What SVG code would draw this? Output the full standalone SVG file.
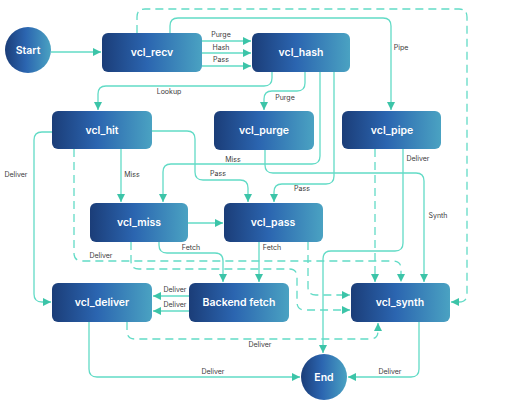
<svg xmlns="http://www.w3.org/2000/svg" width="512" height="408" viewBox="0 0 512 408">
<defs>
<linearGradient id="g" x1="0" y1="0" x2="1" y2="0">
<stop offset="0" stop-color="#1b3d78"/>
<stop offset="0.45" stop-color="#2b65b0"/>
<stop offset="1" stop-color="#4aa2c2"/>
</linearGradient>
<marker id="a" viewBox="0 0 8 8" refX="8" refY="4" markerWidth="8" markerHeight="8" markerUnits="userSpaceOnUse" orient="auto">
<path d="M0,0 L8,4 L0,8 z" fill="#3cc4a8"/>
</marker>
<style>
.n{fill:url(#g);}
.t{fill:#fff;font-family:Inter,"Noto Sans","Liberation Sans",sans-serif;font-size:10.5px;font-weight:600;text-anchor:middle;}
.c{fill:none;stroke:#62dbc6;stroke-width:1.3;marker-end:url(#a);}
.d{stroke-dasharray:8 5;}
.l{fill:#3a3a3a;font-family:Inter,"Noto Sans","Liberation Sans",sans-serif;font-size:7px;text-anchor:middle;}
</style>
</defs>
<rect width="512" height="408" fill="#fff"/>
<g id="connectors">
<path class="c" d="M51,52 H101"/>
<path class="c" d="M202,41 H251"/>
<path class="c" d="M202,53 H251"/>
<path class="c" d="M202,66 H251"/>
<path class="c d" d="M137,33 V17 Q137,9 145,9 H459 Q467,9 467,17 V294 Q467,302 459,302 H451"/>
<path class="c" d="M170,33 V26 Q170,18 178,18 H383 Q391,18 391,26 V110"/>
<path class="c" d="M272,72 V78 Q272,86 264,86 H106 Q98,86 98,94 V110"/>
<path class="c" d="M305,72 V83 Q305,91 297,91 H272 Q264,91 264,99 V110"/>
<path class="c" d="M320,72 V156 Q320,164 312,164 H171 Q163,164 163,172 V202"/>
<path class="c" d="M334,72 V176 Q334,184 326,184 H282 Q274,184 274,192 V202"/>
<path class="c" d="M121,149 V202"/>
<path class="c" d="M152,131 H187 Q195,131 195,139 V172 Q195,180 203,180 H240 Q248,180 248,188 V202"/>
<path class="c" d="M52,132 H42 Q34,132 34,140 V294 Q34,302 42,302 H51"/>
<path class="c d" d="M74,149 V253 Q74,261 82,261 H393 Q401,261 401,269 V282"/>
<path class="c" d="M188,223 H223"/>
<path class="c" d="M159,242 V245 Q159,253 167,253 H215 Q223,253 223,261 V282"/>
<path class="c d" d="M131,242 V261 Q131,269 139,269 H289 Q297,269 297,277 V302 Q297,310 305,310 H350"/>
<path class="c" d="M259,242 V282"/>
<path class="c d" d="M308,242 V287 Q308,295 316,295 H350"/>
<path class="c d" d="M375,149 V282"/>
<path class="c" d="M403,149 V243 Q403,251 395,251 H331 Q323,251 323,259 V353"/>
<path class="c" d="M265,150 V165 Q265,173 273,173 H416 Q424,173 424,181 V282"/>
<path class="c" d="M189,296 H153"/>
<path class="c" d="M189,311 H153"/>
<path class="c d" d="M127,322 V331 Q127,339 135,339 H370 Q378,339 378,331 V323"/>
<path class="c" d="M89,322 V369 Q89,377 97,377 H300"/>
<path class="c" d="M419,322 V369 Q419,377 411,377 H348"/>
</g>
<g id="labels">
<text class="l" x="221" y="37">Purge</text>
<text class="l" x="221" y="50">Hash</text>
<text class="l" x="221" y="62">Pass</text>
<text class="l" x="401" y="50">Pipe</text>
<text class="l" x="169" y="94">Lookup</text>
<text class="l" x="285" y="100">Purge</text>
<text class="l" x="16" y="177">Deliver</text>
<text class="l" x="132" y="177">Miss</text>
<text class="l" x="218" y="176">Pass</text>
<text class="l" x="233" y="162">Miss</text>
<text class="l" x="302" y="191">Pass</text>
<text class="l" x="418" y="161">Deliver</text>
<text class="l" x="438" y="218">Synth</text>
<text class="l" x="191" y="250">Fetch</text>
<text class="l" x="272" y="250">Fetch</text>
<text class="l" x="101" y="258">Deliver</text>
<text class="l" x="175" y="292">Deliver</text>
<text class="l" x="175" y="307">Deliver</text>
<text class="l" x="260" y="347">Deliver</text>
<text class="l" x="213" y="374">Deliver</text>
<text class="l" x="390" y="374">Deliver</text>
</g>
<g id="start"><circle class="n" cx="28" cy="50" r="23"/><text class="t" x="28" y="54">Start</text></g>
<g id="vcl_recv"><rect class="n" x="102" y="33" width="100" height="39" rx="6"/><text class="t" x="152" y="56">vcl_recv</text></g>
<g id="vcl_hash"><rect class="n" x="252" y="33" width="98" height="39" rx="6"/><text class="t" x="301" y="56">vcl_hash</text></g>
<g id="vcl_hit"><rect class="n" x="52" y="111" width="100" height="38" rx="6"/><text class="t" x="102" y="134">vcl_hit</text></g>
<g id="vcl_purge"><rect class="n" x="214" y="111" width="100" height="39" rx="6"/><text class="t" x="264" y="134">vcl_purge</text></g>
<g id="vcl_pipe"><rect class="n" x="342" y="111" width="99" height="38" rx="6"/><text class="t" x="392" y="134">vcl_pipe</text></g>
<g id="vcl_miss"><rect class="n" x="90" y="203" width="98" height="39" rx="6"/><text class="t" x="139" y="226">vcl_miss</text></g>
<g id="vcl_pass"><rect class="n" x="224" y="203" width="99" height="39" rx="6"/><text class="t" x="273" y="226">vcl_pass</text></g>
<g id="vcl_deliver"><rect class="n" x="52" y="283" width="100" height="39" rx="6"/><text class="t" x="102" y="306">vcl_deliver</text></g>
<g id="backend_fetch"><rect class="n" x="189" y="283" width="100" height="39" rx="6"/><text class="t" x="239" y="306">Backend fetch</text></g>
<g id="vcl_synth"><rect class="n" x="351" y="283" width="99" height="39" rx="6"/><text class="t" x="400" y="306">vcl_synth</text></g>
<g id="end"><circle class="n" cx="324" cy="377" r="23"/><text class="t" x="324" y="381">End</text></g>
</svg>
